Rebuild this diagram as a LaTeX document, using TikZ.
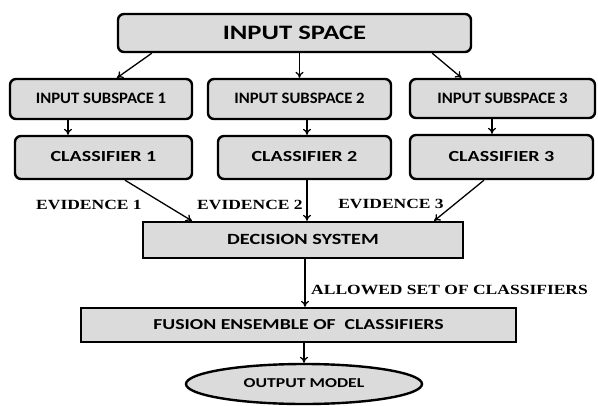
\documentclass[tikz,border=0pt]{standalone}
\usepackage{fontspec}
\setmainfont{Carlito}
\newfontfamily\widefont[FakeStretch=1.3]{Carlito}
\newfontfamily\subfont[FakeStretch=1.05]{Carlito}
\newfontfamily\evfont[FakeStretch=1.25]{Liberation Serif}
\usetikzlibrary{arrows.meta,shapes.geometric}

\begin{document}
\begin{tikzpicture}[
    x=1pt, y=-1pt,
    every node/.style={align=center, inner sep=0pt},
    block/.style={draw=black, line width=2.4pt, fill=gray!28, text depth=0.25ex},
    roundblock/.style={block, rounded corners=6pt},
    evlabel/.style={font=\evfont\bfseries\fontsize{14}{16}\selectfont},
    link/.style={draw, line width=1.3pt, -{To[length=6pt,width=8pt]}}
]
\useasboundingbox[fill=white] (0,0) rectangle (598,405);

\node[roundblock, minimum width=353pt, minimum height=38pt, font=\widefont\bfseries\fontsize{20.5}{22}\selectfont] (in) at (294.5,33) {INPUT SPACE};

\node[roundblock, minimum width=182pt, minimum height=40pt, font=\subfont\bfseries\fontsize{15.9}{18}\selectfont] (sub1) at (101,99) {INPUT SUBSPACE 1};
\node[roundblock, minimum width=183pt, minimum height=40pt, font=\subfont\bfseries\fontsize{15.9}{18}\selectfont] (sub2) at (299.5,99) {INPUT SUBSPACE 2};
\node[roundblock, minimum width=185pt, minimum height=39pt, font=\subfont\bfseries\fontsize{15.9}{18}\selectfont] (sub3) at (502.5,98.5) {INPUT SUBSPACE 3};

\node[roundblock, minimum width=177pt, minimum height=43pt, font=\widefont\bfseries\fontsize{15.4}{17}\selectfont] (cls1) at (103.5,157.5) {CLASSIFIER 1};
\node[roundblock, minimum width=173pt, minimum height=43pt, font=\widefont\bfseries\fontsize{15.4}{17}\selectfont] (cls2) at (304.5,157.5) {CLASSIFIER 2};
\node[roundblock, minimum width=183pt, minimum height=44pt, font=\widefont\bfseries\fontsize{15.4}{17}\selectfont] (cls3) at (501.5,157) {CLASSIFIER 3};

\node[block, minimum width=320pt, minimum height=36pt, font=\widefont\bfseries\fontsize{15.6}{17}\selectfont] (dec) at (303,240) {DECISION SYSTEM};
\node[block, minimum width=435pt, minimum height=34pt, font=\widefont\bfseries\fontsize{15.2}{17}\selectfont] (fus) at (298.5,325) {FUSION ENSEMBLE OF \ CLASSIFIERS};
\node[block, ellipse, minimum width=236pt, minimum height=40pt, font=\widefont\bfseries\fontsize{13.6}{15}\selectfont] (out) at (304,384) {OUTPUT MODEL};

\node[evlabel] (ev1) at (89,205) {EVIDENCE 1};
\node[evlabel] (ev2) at (250,205) {EVIDENCE 2};
\node[evlabel] (ev3) at (391,204) {EVIDENCE 3};
\node[evlabel, anchor=west] (allowed) at (311,290) {ALLOWED SET OF CLASSIFIERS};

% input space to subspaces
\draw[link] ([xshift=35pt]in.south west) -- ([xshift=16pt]sub1.north);
\draw[link] (in.south -| sub2) -- (sub2.north);
\draw[link] ([xshift=-40pt]in.south east) -- ([xshift=-41pt]sub3.north);

% subspaces to classifiers
\draw[link] ([xshift=-33pt]sub1.south) -- ([xshift=-33pt]sub1.south |- cls1.north);
\draw[link] ([xshift=7.5pt]sub2.south) -- ([xshift=7.5pt]sub2.south |- cls2.north);
\draw[link] ([xshift=-10.5pt]sub3.south) -- ([xshift=-10.5pt]sub3.south |- cls3.north);

% classifiers to decision system
\draw[link] ([xshift=21.5pt]cls1.south) -- ([xshift=50pt]dec.north west);
\draw[link] ([xshift=2.5pt]cls2.south) -- ([xshift=2.5pt]cls2.south |- dec.north);
\draw[link] ([xshift=-17.5pt]cls3.south) -- ([xshift=-30pt]dec.north east);

% decision system down to output
\draw[link] ([xshift=2pt]dec.south) -- ([xshift=2pt]dec.south |- fus.north);
\draw[link] (fus.south -| out) -- (out.north);
\end{tikzpicture}
\end{document}
